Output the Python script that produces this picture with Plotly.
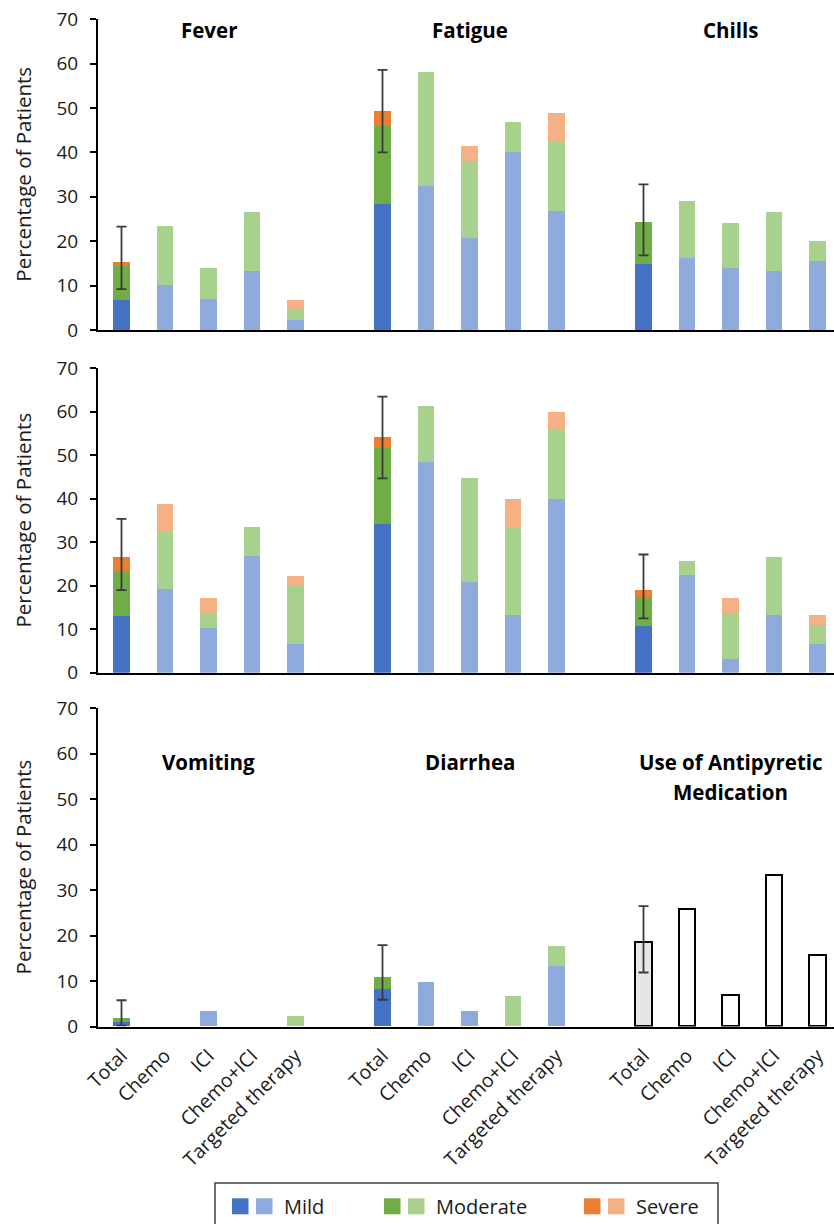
import plotly.graph_objects as go

# ---------------- data ----------------
arms = ["Total", "Chemo", "ICI", "Chemo+ICI", "Targeted therapy"]
symptoms = ["Fever", "Fatigue", "Chills", "Headache", "Muscle Pain",
            "Joint Pain", "Vomiting", "Diarrhea"]

# percentage of patients per arm (Total, Chemo, ICI, Chemo+ICI, Targeted therapy)
mild = [
    [6.8, 10.0, 6.9, 13.3, 2.2],     # Fever
    [28.4, 32.3, 20.7, 40.0, 26.7],  # Fatigue
    [14.9, 16.1, 13.8, 13.3, 15.4],  # Chills
    [13.1, 19.3, 10.3, 26.7, 6.6],   # Headache
    [34.1, 48.4, 20.7, 13.3, 40.0],  # Muscle Pain
    [10.6, 22.4, 3.2, 13.3, 6.6],    # Joint Pain
    [0.9, 0.0, 3.4, 0.0, 0.0],       # Vomiting
    [8.2, 9.7, 3.4, 0.0, 13.3],      # Diarrhea
]
moderate = [
    [7.6, 13.3, 6.9, 13.3, 2.2],
    [17.4, 25.8, 17.2, 6.7, 15.6],
    [9.3, 12.9, 10.2, 13.3, 4.6],
    [9.9, 12.9, 3.4, 6.7, 13.3],
    [17.6, 12.9, 24.0, 20.0, 15.7],
    [6.8, 3.2, 10.5, 13.3, 4.4],
    [0.9, 0.0, 0.0, 0.0, 2.2],
    [2.6, 0.0, 0.0, 6.7, 4.4],
]
severe = [
    [0.9, 0.0, 0.0, 0.0, 2.4],
    [3.5, 0.0, 3.4, 0.0, 6.6],
    [0.0, 0.0, 0.0, 0.0, 0.0],
    [3.6, 6.5, 3.4, 0.0, 2.2],
    [2.4, 0.0, 0.0, 6.7, 4.3],
    [1.5, 0.0, 3.4, 0.0, 2.2],
    [0.0, 0.0, 0.0, 0.0, 0.0],
    [0.0, 0.0, 0.0, 0.0, 0.0],
]
# 95% CI of the Total bar (low, high) per symptom
total_ci_low = [9.2, 40.0, 16.8, 19.0, 44.7, 12.5, 0.2, 5.9]
total_ci_high = [23.3, 58.6, 32.8, 35.4, 63.5, 27.2, 5.8, 17.9]

antipyretic_title = ["Use of Antipyretic", "Medication"]
antipyretic = [18.5, 25.8, 6.9, 33.3, 15.6]
antipyretic_ci_low = 11.9
antipyretic_ci_high = 26.5

severity_names = ["Mild", "Moderate", "Severe"]
dark_colors = ["#4472C4", "#70AD47", "#ED7D31"]
light_colors = ["#8FAADC", "#A9D18E", "#F4B183"]

# ---------------- layout helpers ----------------
W, H = 834, 1224
FONT = "Open Sans"
TXT = "#1a1a1a"
n_arms = len(arms)
slot = n_arms + 1  # one empty slot between groups
bar_w = 0.39

# row plot areas in pixels: (top of 70, bottom at 0)
rows_px = [(19.3, 330.0), (368.3, 672.8), (708.3, 1026.6)]
x_left_px, x_right_px = 98, 834


def py(p):
    return 1 - p / H


fig = go.Figure()

for s, name in enumerate(symptoms):
    r = s // 3
    g = s % 3
    xs = [g * slot + i for i in range(n_arms)]
    ax_x = "x" if r == 0 else f"x{r + 1}"
    ax_y = "y" if r == 0 else f"y{r + 1}"
    for k, vals in enumerate([mild[s], moderate[s], severe[s]]):
        colors = [dark_colors[k] if i == 0 else light_colors[k] for i in range(n_arms)]
        fig.add_trace(go.Bar(
            x=xs, y=vals, width=bar_w, xaxis=ax_x, yaxis=ax_y,
            marker=dict(color=colors, line=dict(width=0)),
            name=severity_names[k], showlegend=False,
        ))
    tot = mild[s][0] + moderate[s][0] + severe[s][0]
    fig.add_trace(go.Scatter(
        x=[xs[0]], y=[tot], mode="markers", xaxis=ax_x, yaxis=ax_y,
        marker=dict(size=1, color="rgba(0,0,0,0)"), showlegend=False,
        error_y=dict(type="data", symmetric=False,
                     array=[total_ci_high[s] - tot],
                     arrayminus=[tot - total_ci_low[s]],
                     color="#3a3a3a", thickness=1.8, width=5),
    ))

# antipyretic medication (row 3, group 3)
xs_a = [2 * slot + i for i in range(n_arms)]
fig.add_trace(go.Bar(
    x=xs_a, y=antipyretic, width=bar_w, xaxis="x3", yaxis="y3",
    marker=dict(color=["#E7E6E6"] + ["#FFFFFF"] * (n_arms - 1),
                line=dict(color="#000000", width=2)),
    showlegend=False,
))
fig.add_trace(go.Scatter(
    x=[xs_a[0]], y=[antipyretic[0]], mode="markers", xaxis="x3", yaxis="y3",
    marker=dict(size=1, color="rgba(0,0,0,0)"), showlegend=False,
    error_y=dict(type="data", symmetric=False,
                 array=[antipyretic_ci_high - antipyretic[0]],
                 arrayminus=[antipyretic[0] - antipyretic_ci_low],
                 color="#3a3a3a", thickness=1.8, width=5),
))

# axes
px_per_slot = 43.5
x_center0_px = 121.5
x_range = [(x_left_px - x_center0_px) / px_per_slot, (x_right_px - x_center0_px) / px_per_slot]
tickvals = [g * slot + i for g in range(3) for i in range(n_arms)]
ticktext = arms * 3

layout_axes = {}
for r, (top, bot) in enumerate(rows_px):
    xa = "xaxis" if r == 0 else f"xaxis{r + 1}"
    ya = "yaxis" if r == 0 else f"yaxis{r + 1}"
    yref = "y" if r == 0 else f"y{r + 1}"
    layout_axes[xa] = dict(
        domain=[x_left_px / W, 1.0], range=x_range, anchor=yref,
        showline=True, linecolor="#000000", linewidth=2,
        showgrid=False, zeroline=False, ticks="",
        tickvals=tickvals, ticktext=ticktext,
        showticklabels=(r == 2), tickangle=-45,
        tickfont=dict(family=FONT, size=19.5, color=TXT),
        ticklabelstandoff=8, automargin=False, fixedrange=True,
    )
    layout_axes[ya] = dict(
        domain=[py(bot), py(top)], range=[0, 70], anchor="x" if r == 0 else f"x{r + 1}",
        tickvals=list(range(0, 71, 10)),
        showline=True, linecolor="#000000", linewidth=2,
        showgrid=False, zeroline=False,
        ticks="outside", ticklen=6, tickwidth=1.5, tickcolor="#000000",
        tickfont=dict(family=FONT, size=19, color=TXT),
        ticklabelstandoff=8, automargin=False, fixedrange=True,
    )

annotations = []
# panel titles
title_y = [67.5, 70.6, 58.1]
for s, name in enumerate(symptoms):
    r = s // 3
    g = s % 3
    annotations.append(dict(
        x=g * slot + (n_arms - 1) / 2, y=title_y[r],
        xref="x" if r == 0 else f"x{r + 1}", yref="y" if r == 0 else f"y{r + 1}",
        text=f"<b>{name}</b>", showarrow=False, yanchor="middle",
        font=dict(family=FONT, size=20.5, color="#000000"),
    ))
for j, line in enumerate(antipyretic_title):
    annotations.append(dict(
        x=2 * slot + (n_arms - 1) / 2, y=title_y[2] - j * 6.4,
        xref="x3", yref="y3", text=f"<b>{line}</b>", showarrow=False,
        yanchor="middle", font=dict(family=FONT, size=20.5, color="#000000"),
    ))
# y-axis titles
for top, bot in rows_px:
    annotations.append(dict(
        x=23 / W, y=py((top + bot) / 2), xref="paper", yref="paper",
        text="Percentage of Patients", textangle=-90, showarrow=False,
        xanchor="center", yanchor="middle",
        font=dict(family=FONT, size=20.5, color=TXT),
    ))

# custom legend (pairs of dark/light squares)
shapes = [dict(type="rect", xref="paper", yref="paper",
               x0=215 / W, x1=718 / W, y0=py(1240), y1=py(1183),
               line=dict(color="#404040", width=1.5), fillcolor="rgba(0,0,0,0)")]
legend_x = [232, 384, 584]
for k, nm in enumerate(severity_names):
    x0 = legend_x[k]
    for j, col in enumerate([dark_colors[k], light_colors[k]]):
        shapes.append(dict(type="rect", xref="paper", yref="paper",
                           x0=(x0 + j * 24) / W, x1=(x0 + j * 24 + 16.5) / W,
                           y0=py(1214.3), y1=py(1198.3),
                           line=dict(width=0), fillcolor=col))
    annotations.append(dict(
        x=(x0 + 50) / W, y=py(1206.5), xref="paper", yref="paper",
        text=nm, showarrow=False, xanchor="left", yanchor="middle",
        font=dict(family=FONT, size=20, color=TXT),
    ))

fig.update_layout(
    width=W, height=H, barmode="stack", bargap=0,
    margin=dict(l=0, r=0, t=0, b=0),
    paper_bgcolor="#FFFFFF", plot_bgcolor="#FFFFFF",
    showlegend=False, annotations=annotations, shapes=shapes,
    **layout_axes,
)

fig.write_html(
    "out.html",
    config={"displayModeBar": False, "staticPlot": False},
    post_script="document.body.style.margin='0';document.body.style.overflow='hidden';",
)
